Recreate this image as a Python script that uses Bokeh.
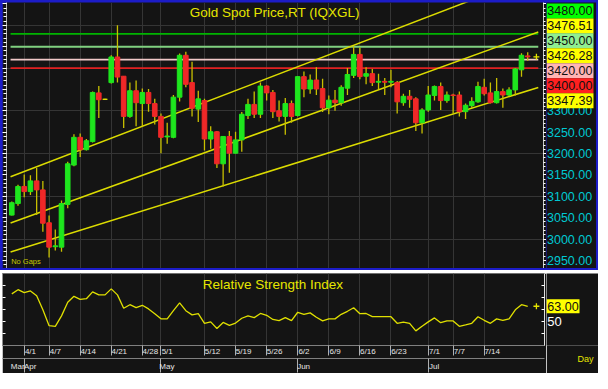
from bokeh.plotting import figure
from bokeh.layouts import column, row
from bokeh.models import (FixedTicker, LinearAxis, Label, Range1d, Title)
from bokeh.core.properties import value
from bokeh.embed import file_html
from bokeh.resources import INLINE

# ---------------- data ----------------
opens = [3056, 3083, 3123, 3111, 3136, 3115, 3038, 2982, 2981, 3081,
         3173, 3238, 3209, 3228, 3342, 3327, 3366, 3426, 3381, 3287,
         3347, 3317, 3343, 3317, 3287, 3239, 3238, 3332, 3430, 3366,
         3304, 3324, 3234, 3251, 3176, 3240, 3201, 3232, 3289, 3315,
         3292, 3358, 3343, 3300, 3287, 3317, 3289, 3380, 3351, 3372,
         3352, 3307, 3325, 3319, 3353, 3383, 3432, 3381, 3387, 3367,
         3369, 3367, 3366, 3319, 3334, 3328, 3272, 3302, 3336, 3357,
         3324, 3337, 3337, 3298, 3312, 3321, 3355, 3342, 3319, 3345,
         3337, 3349, 3396, 3428.5]
highs = [3088, 3127, 3151, 3149, 3166, 3136, 3055, 3022, 3090, 3181,
         3245, 3247, 3234, 3345, 3358, 3328, 3430, 3500, 3381, 3366,
         3371, 3352, 3351, 3328, 3294, 3272, 3337, 3434, 3438, 3415,
         3347, 3328, 3264, 3253, 3240, 3253, 3251, 3297, 3328, 3345,
         3366, 3360, 3349, 3324, 3330, 3324, 3381, 3392, 3385, 3402,
         3375, 3336, 3349, 3360, 3400, 3451, 3448, 3402, 3398, 3387,
         3377, 3396, 3370, 3340, 3349, 3332, 3306, 3358, 3359, 3366,
         3345, 3340, 3345, 3317, 3332, 3368, 3375, 3366, 3377, 3352,
         3355, 3400, 3435, 3437]
lows = [3055, 3078, 3098, 3103, 3056, 3017, 2957, 2973, 2970, 3072,
        3170, 3192, 3207, 3226, 3283, 3326, 3364, 3366, 3260, 3284,
        3264, 3264, 3298, 3268, 3201, 3223, 3236, 3322, 3355, 3287,
        3274, 3207, 3211, 3166, 3123, 3155, 3200, 3204, 3281, 3283,
        3283, 3324, 3283, 3275, 3244, 3272, 3287, 3332, 3340, 3337,
        3297, 3292, 3300, 3312, 3337, 3377, 3374, 3362, 3358, 3351,
        3337, 3355, 3294, 3312, 3307, 3253, 3247, 3298, 3324, 3302,
        3319, 3294, 3287, 3281, 3307, 3319, 3336, 3317, 3317, 3307,
        3334, 3336, 3380, 3417]
closes = [3085, 3123, 3111, 3136, 3115, 3037, 2981, 2984, 3083, 3176,
          3238, 3209, 3230, 3343, 3326, 3327, 3426, 3379, 3287, 3347,
          3319, 3343, 3317, 3287, 3238, 3241, 3332, 3430, 3362, 3306,
          3328, 3234, 3251, 3176, 3240, 3201, 3232, 3292, 3315, 3292,
          3358, 3342, 3298, 3287, 3317, 3287, 3380, 3351, 3372, 3351,
          3307, 3325, 3319, 3355, 3385, 3432, 3380, 3387, 3366, 3369,
          3367, 3369, 3321, 3334, 3327, 3272, 3302, 3337, 3357, 3324,
          3337, 3336, 3298, 3313, 3322, 3357, 3340, 3319, 3345, 3337,
          3349, 3398, 3430, 3426.28]
rsi = [73.3, 76.8, 74.3, 75.8, 71.8, 60.0, 46.8, 46.3, 55.0, 66.3,
       71.3, 68.8, 69.3, 75.0, 72.5, 72.5, 77.5, 72.5, 61.3, 64.3,
       61.8, 63.8, 60.8, 56.8, 52.5, 52.5, 59.3, 65.8, 59.3, 55.8,
       56.8, 48.8, 50.0, 44.5, 49.5, 47.0, 49.0, 53.0, 55.0, 53.5,
       57.0, 55.5, 52.0, 51.0, 53.5, 51.0, 58.0, 56.3, 57.5, 53.8,
       50.8, 52.5, 52.5, 56.3, 58.8, 61.8, 56.8, 57.0, 54.3, 54.3,
       54.3, 54.3, 48.8, 49.8, 48.8, 42.5, 46.3, 50.0, 53.3, 49.3,
       50.8, 50.8, 46.3, 47.5, 48.8, 54.3, 51.3, 48.8, 52.5, 51.3,
       52.5, 60.0, 64.3, 63.0]

date_tick_idx = [2, 6, 11, 16, 21, 24, 31, 36, 41, 46, 51, 56, 61, 67, 71, 76]
date_tick_labels = ["4/1", "4/7", "4/14", "4/21", "4/28", "5/1", "5/12", "5/19",
                    "5/26", "6/2", "6/9", "6/16", "6/23", "7/1", "7/7", "7/14"]
month_start_idx = [0, 2, 24, 46, 67]
month_labels = ["Mar", "Apr", "May", "Jun", "Jul"]

price_ticks = [2950, 3000, 3050, 3100, 3150, 3200, 3250, 3300]
level_values = [3480.00, 3450.00, 3420.00, 3400.00]
channel_start = [2969.6, 3037.6, 3145.6]   # value of each channel line at its left end
channel_end = [3354.7, 3484.4, 3619.0]     # value at its right end
channel_x = [-0.2, 84.7]

box_texts = ["3480.00", "3476.51", "3450.00", "3426.28", "3420.00", "3400.00", "3347.39"]
last_price = 3426.28
last_rsi = 63.00
rsi_mid = 50

title_text = "Gold Spot Price,RT (IQXGL)"
rsi_title = "Relative Strength Index"

# ---------------- styles ----------------
FONT = "Liberation Sans"
BG = "#141414"
GRID = "#353535"
UP = "#1ee61e"
DOWN = "#f02828"
WICK = "#c8c000"
YEL = "#e6e600"
CYAN = "#00c8d2"
BLUE = "#1c1cc8"
level_colors = ["#00b400", "#80d080", "#f0c8c8", "#e02020"]
box_colors = ["#00ff00", "#ffff00", "#90ee90", "#ffff00", "#ffb4b4", "#ff2020", "#ffff00"]

idx = list(range(len(closes)))
price_range = Range1d(2931, 3553.5)


def tick_axis(major, minor, tin, tout, line_col):
    return LinearAxis(ticker=FixedTicker(ticks=major, minor_ticks=minor),
                      major_label_text_color=None, major_label_text_font_size="0px",
                      major_label_standoff=0,
                      major_tick_in=tin, major_tick_out=tout,
                      minor_tick_in=tin, minor_tick_out=max(tout - 1, 0) if tout else 0,
                      axis_line_color=line_col, major_tick_line_color="white",
                      minor_tick_line_color="white")


# ---------------- price panel ----------------
p = figure(width=544, height=266, x_range=Range1d(-0.85, 85.54), y_range=price_range,
           output_backend="svg", toolbar_location=None,
           x_axis_location=None, y_axis_location=None,
           min_border_left=4, min_border_right=3, min_border_top=0, min_border_bottom=0,
           background_fill_color=BG, border_fill_color=BG, outline_line_color=None)
p.margin = (2, 0, 2, 2)
p.xgrid.ticker = FixedTicker(ticks=date_tick_idx)
p.ygrid.ticker = FixedTicker(ticks=[3000, 3100, 3200, 3300, 3400, 3500])
p.xgrid.grid_line_color = GRID
p.ygrid.grid_line_color = GRID

minor10 = list(range(2940, 3551, 10))
major50 = list(range(2950, 3551, 50))
p.add_layout(tick_axis(major50, minor10, 0, 4, "#b0b0b0"), "left")
p.add_layout(tick_axis(major50, minor10, 0, 3, "#c8c8c8"), "right")

for v, c in zip(level_values, level_colors):
    p.line(channel_x, [v, v], line_color=c, line_width=1.8)

for a, b in zip(channel_start, channel_end):
    p.line(channel_x, [a, b], line_color="#dcdc00", line_width=1.5)

body_col = [UP if c > o else (DOWN if c < o else YEL) for o, c in zip(opens, closes)]
tops = [max(o, c) for o, c in zip(opens, closes)]
bots = [min(o, c) for o, c in zip(opens, closes)]
p.segment(idx, highs, idx, lows, line_color=WICK, line_width=1.3)
p.vbar(x=idx, width=0.74, top=tops, bottom=bots, fill_color=body_col, line_color=body_col,
       line_width=1)
p.scatter([84.4], [last_price], marker="cross", size=6, line_color=YEL, line_width=1.3)

p.add_layout(Label(x=42.3, y=3531, text=title_text, text_align="center",
                   text_baseline="middle", text_font=FONT, text_font_size="13.5px",
                   text_color=YEL))
p.add_layout(Label(x=-0.1, y=2947, text="No Gaps", text_align="left",
                   text_baseline="middle", text_font=FONT, text_font_size="7.5px",
                   text_color="#c8c800"))

# right label column of the price panel
pr = figure(width=50, height=266, x_range=Range1d(0, 50), y_range=price_range,
            output_backend="svg", toolbar_location=None,
            x_axis_location=None, y_axis_location=None,
            min_border_left=0, min_border_right=0, min_border_top=0, min_border_bottom=0,
            background_fill_color=BG, border_fill_color=BG, outline_line_color=None)
pr.margin = (2, 2, 2, 0)
pr.xgrid.visible = False
pr.ygrid.visible = False
pr.text(x=[0.5] * len(price_ticks), y=price_ticks, text=["%.2f" % t for t in price_ticks],
        text_font=value(FONT), text_font_size="12.5px", text_color=CYAN,
        text_baseline="middle", text_align="left")

box_top = 3551.1
box_step = 34.96
box_y = [box_top - (k + 0.5) * box_step for k in range(len(box_texts))]
pr.rect(x=[23.5] * len(box_texts), y=box_y, width=47, height=15, width_units="screen",
        height_units="screen", fill_color=box_colors, line_color=None)
pr.text(x=[0.8] * len(box_texts), y=box_y, text=box_texts, text_font=value(FONT),
        text_font_size="12.5px", text_color="#101010", text_baseline="middle",
        text_align="left")

top_row = row(p, pr, styles={"background-color": BLUE})

# ---------------- RSI panel ----------------
rsi_range = Range1d(30.3, 90.3)
q = figure(width=544, height=100, x_range=Range1d(-1.496, 85.70), y_range=rsi_range,
           output_backend="svg", toolbar_location=None,
           x_axis_location=None, y_axis_location=None,
           min_border_left=0, min_border_right=2, min_border_top=0, min_border_bottom=25,
           background_fill_color=BG, border_fill_color=BG, outline_line_color="#707070")
q.margin = (0, 0, 0, 2)
q.xgrid.ticker = FixedTicker(ticks=date_tick_idx)
q.xgrid.grid_line_color = GRID
q.ygrid.visible = False

rsi_ticks = [40, 50, 60, 70, 80]
q.add_layout(tick_axis(rsi_ticks, [], 3, 0, "#909090"), "left")
q.add_layout(tick_axis(rsi_ticks, [], 3, 0, "#e0e0e0"), "right")

date_label_pos = [t + (1 + 1.75 * len(s)) / 6.216 for t, s in zip(date_tick_idx, date_tick_labels)]
date_ax = LinearAxis(ticker=FixedTicker(ticks=date_label_pos, minor_ticks=date_tick_idx),
                     major_label_overrides=dict(zip(date_label_pos, date_tick_labels)),
                     major_tick_line_color=None, minor_tick_out=10, minor_tick_in=0,
                     minor_tick_line_color="#b0b0b0", axis_line_color="#808080",
                     major_label_text_color="#e6e6e6", major_label_text_font=FONT,
                     major_label_text_font_size="8px", major_label_standoff=-9)
q.add_layout(date_ax, "below")

month_label_pos = [s + 0.95 for s in month_start_idx]
month_ax = LinearAxis(ticker=FixedTicker(ticks=month_label_pos, minor_ticks=month_start_idx[1:]),
                      major_label_overrides=dict(zip(month_label_pos, month_labels)),
                      major_tick_line_color=None, minor_tick_out=14, minor_tick_in=0,
                      minor_tick_line_color="#b0b0b0", axis_line_color="#808080",
                      major_label_text_color="#e6e6e6", major_label_text_font=FONT,
                      major_label_text_font_size="8px", major_label_standoff=-11)
q.add_layout(month_ax, "below")

q.line(idx, rsi, line_color="#e0e000", line_width=1.3)
q.scatter([84.4], [last_rsi], marker="cross", size=6, line_color=YEL, line_width=1.3)
q.add_layout(Label(x=42.0, y=81.3, text=rsi_title, text_align="center",
                   text_baseline="middle", text_font=FONT, text_font_size="13.5px",
                   text_color=YEL))

# right label column of the RSI panel (frame aligned with the RSI frame)
qr = figure(width=52, height=100, x_range=Range1d(0, 52), y_range=rsi_range,
            output_backend="svg", toolbar_location=None,
            x_axis_location=None, y_axis_location=None,
            min_border_left=0, min_border_right=0, min_border_top=0, min_border_bottom=25,
            background_fill_color=BG, border_fill_color=BG, outline_line_color=None)
qr.xgrid.visible = False
qr.ygrid.visible = False
qr.rect(x=[16.5], y=[last_rsi], width=33, height=14, width_units="screen",
        height_units="screen", fill_color="#ffff00", line_color=None)
qr.text(x=[0.8], y=[last_rsi], text=["%.2f" % last_rsi], text_font=value(FONT),
        text_font_size="12.5px", text_color="#101010", text_baseline="middle", text_align="left")
qr.text(x=[0.8], y=[rsi_mid], text=["%d" % rsi_mid], text_font=value(FONT),
        text_font_size="13px", text_color="white", text_baseline="middle", text_align="left")
qr.add_layout(Title(text="Day", align="left", text_color=YEL, text_font=FONT,
                    text_font_size="9px", text_font_style="normal", standoff=13,
                    offset=31), "below")

bottom_row = row(q, qr)

layout = column(top_row, bottom_row, spacing=3)
open("out.html", "w").write(file_html(layout, INLINE))
